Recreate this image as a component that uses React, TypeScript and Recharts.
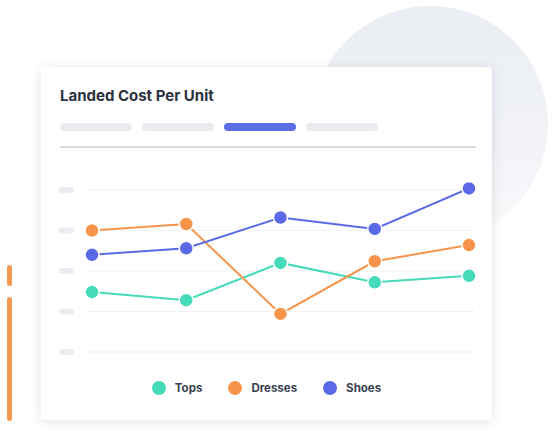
import React from "react";
import { LineChart, Line, XAxis, YAxis, CartesianGrid, Legend } from "recharts";

const months = ["Jan", "Feb", "Mar", "Apr", "May"];
const tops = [37, 32, 55, 43, 47];
const dresses = [75, 79, 23.5, 56, 66];
const shoes = [60, 64, 83, 76, 101];
const yTicks = [0, 25, 50, 75, 100];
const tabs = ["Week", "Month", "Quarter", "Year"];
const activeTab = 2;

const series = [
  { key: "tops", name: "Tops", color: "#45dbb8", values: tops },
  { key: "dresses", name: "Dresses", color: "#f6944b", values: dresses },
  { key: "shoes", name: "Shoes", color: "#5b69e6", values: shoes },
];

const data = months.map((m, i) => ({
  month: m,
  tops: tops[i],
  dresses: dresses[i],
  shoes: shoes[i],
}));

const font = "Inter, 'Noto Sans', sans-serif";

// y-axis labels are drawn as blank placeholder pills
const PillTick = (props: any) => (
  <rect x={18} y={props.y - 3} width={15} height={6} rx={3} fill="#e9edf2" />
);

const LegendContent = () => (
  <div
    style={{
      display: "flex",
      justifyContent: "center",
      alignItems: "center",
      gap: 26,
      height: 20,
      fontFamily: font,
    }}
  >
    {series.map((s) => (
      <div key={s.key} style={{ display: "flex", alignItems: "center" }}>
        <span
          style={{
            width: 14,
            height: 14,
            borderRadius: 7,
            background: s.color,
            display: "inline-block",
            marginRight: 9,
          }}
        />
        <span style={{ fontSize: 11.5, fontWeight: 700, color: "#394050" }}>
          {s.name}
        </span>
      </div>
    ))}
  </div>
);

export default function App() {
  return (
    <div
      style={{
        position: "absolute",
        left: 0,
        top: 0,
        width: 554,
        height: 431,
        background: "#fff",
        overflow: "hidden",
      }}
    >
      {/* background circle */}
      <div
        style={{
          position: "absolute",
          left: 312,
          top: 6,
          width: 236,
          height: 236,
          borderRadius: "50%",
          background: "linear-gradient(180deg, #eaedf3 0%, #f1f3f7 60%, #fbfbfc 100%)",
        }}
      />
      {/* orange accent bars */}
      <div style={{ position: "absolute", left: 7, top: 265, width: 5, height: 21, borderRadius: 3, background: "#f6994f" }} />
      <div style={{ position: "absolute", left: 7, top: 297, width: 5, height: 124, borderRadius: 3, background: "#f6994f" }} />

      <div
        style={{
          position: "absolute",
          left: 41,
          top: 67,
          width: 451,
          height: 353,
          background: "#fff",
          borderRadius: 4,
          boxShadow: "0 2px 12px rgba(30,40,60,0.13)",
        }}
      >
        <div
          style={{
            position: "absolute",
            left: 19,
            top: 20,
            fontFamily: font,
            fontSize: 15,
            lineHeight: "18px",
            fontWeight: 700,
            color: "#2c3240",
          }}
        >
          Landed Cost Per Unit
        </div>
        {tabs.map((t, i) => (
          <div
            key={t}
            title={t}
            style={{
              position: "absolute",
              left: 19 + i * 82,
              top: 56,
              width: 72,
              height: 8,
              borderRadius: 4,
              background: i === activeTab ? "#5b6ee6" : "#e8ecf1",
            }}
          />
        ))}
        <div
          style={{
            position: "absolute",
            left: 19,
            top: 79,
            width: 416,
            height: 1.5,
            background: "#d9dce2",
          }}
        />
        <div style={{ position: "absolute", left: 0, top: 103 }}>
          <LineChart
            width={451}
            height={235}
            data={data}
            margin={{ top: 20, right: 17, bottom: 7, left: 0 }}
          >
            <CartesianGrid vertical={false} stroke="#eef1f5" />
            <XAxis dataKey="month" hide padding={{ left: 6, right: 6 }} />
            <YAxis
              width={45}
              domain={[0, 100]}
              ticks={yTicks}
              allowDataOverflow
              axisLine={false}
              tickLine={false}
              tick={<PillTick />}
            />
            <Legend
              verticalAlign="bottom"
              content={<LegendContent />}
              wrapperStyle={{ left: 0, width: 451, paddingTop: 26 }}
            />
            {series.map((s) => (
              <Line
                key={s.key}
                dataKey={s.key}
                name={s.name}
                stroke={s.color}
                strokeWidth={2}
                dot={{ r: 7, fill: s.color, stroke: "#fff", strokeWidth: 1.5, clipDot: false }}
                activeDot={false}
                isAnimationActive={false}
              />
            ))}
          </LineChart>
        </div>
      </div>
    </div>
  );
}
